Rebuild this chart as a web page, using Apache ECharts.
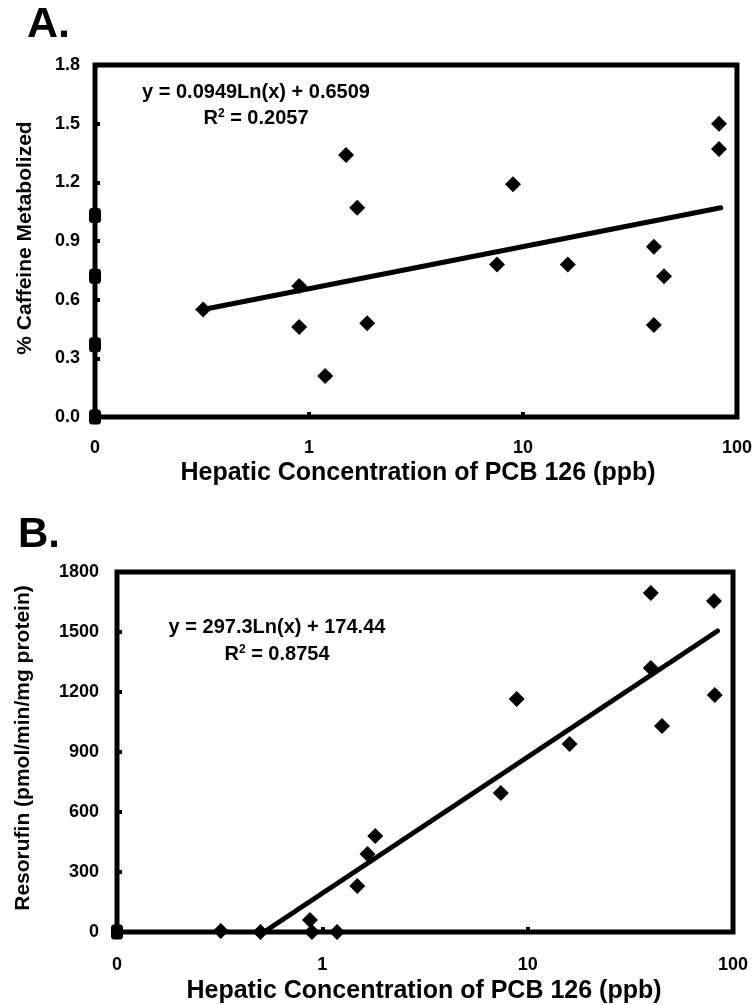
<!DOCTYPE html>
<html>
<head>
<meta charset="utf-8">
<script src="https://cdn.jsdelivr.net/npm/echarts@6/dist/echarts.min.js"></script>
<style>
html,body{margin:0;padding:0;background:#fff;}
#chart{width:755px;height:1005px;}
</style>
</head>
<body>
<div id="chart"></div>
<script>
// ---- Data ----
// Panel A: % Caffeine Metabolized vs hepatic PCB 126 (ppb); x = 0 plotted at axis start (0.1)
const aZeroY = [1.03, 0.72, 0.37, 0.0];
const aX = [0.32, 0.90, 0.90, 1.19, 1.49, 1.68, 1.87, 7.56, 8.98, 16.2, 40.9, 45.6, 40.9, 82.4, 82.4];
const aY = [0.55, 0.67, 0.46, 0.21, 1.34, 1.07, 0.48, 0.78, 1.19, 0.78, 0.87, 0.72, 0.47, 1.50, 1.37];
const aTrend = [[0.32, 0.55], [84, 1.07]];
const aEq = 'y = 0.0949Ln(x) + 0.6509';
const aR2 = '0.2057';

// Panel B: Resorufin (pmol/min/mg protein)
const bZeroY = [0];
const bX = [0.32, 0.50, 0.87, 0.89, 1.18, 1.48, 1.66, 1.81, 7.4, 8.84, 16.0, 39.8, 39.8, 45.1, 80.8, 81.5];
const bY = [5, 0, 60, 0, 0, 230, 390, 480, 695, 1165, 940, 1695, 1320, 1030, 1655, 1185];
const bTrend = [[0.52, 0], [84, 1505]];
const bEq = 'y = 297.3Ln(x) + 174.44';
const bR2 = '0.8754';

// Axis labels
const xTickLabels = {'0.1': '0', '1': '1', '10': '10', '100': '100'};
const xTitle = 'Hepatic Concentration of PCB 126 (ppb)';
const aYTitle = '% Caffeine Metabolized';
const bYTitle = 'Resorufin (pmol/min/mg protein)';
const aYMax = 1.8, aYStep = 0.3;
const bYMax = 1800, bYStep = 300;

const FONT = '"Liberation Sans", Arial, Helvetica, sans-serif';
const zip = (xs, ys) => xs.map((x, i) => [x, ys[i]]);

const chart = echarts.init(document.getElementById('chart'), null, {renderer: 'canvas'});

function xAxisCfg(gridIndex, margin) {
  return {
    type: 'log', logBase: 10, min: 0.1, max: 100, gridIndex,
    axisLine: {show: false},
    axisTick: {show: true, inside: true, length: 5, lineStyle: {color: '#000', width: 4}},
    splitLine: {show: false},
    axisLabel: {
      margin, color: '#000', fontFamily: FONT, fontWeight: 'bold', fontSize: 18,
      formatter: v => {
        const k = String(Math.round(v * 10) / 10);
        return xTickLabels[k] !== undefined ? xTickLabels[k] : '';
      }
    }
  };
}
function yAxisCfg(gridIndex, max, step, margin, fmt) {
  return {
    type: 'value', min: 0, max, interval: step, gridIndex,
    axisLine: {show: false},
    axisTick: {show: true, inside: true, length: 5, lineStyle: {color: '#000', width: 4}},
    splitLine: {show: false},
    axisLabel: {margin, color: '#000', fontFamily: FONT, fontWeight: 'bold', fontSize: 18, formatter: fmt}
  };
}

const diamond = {symbol: 'diamond', symbolSize: 16, itemStyle: {color: '#000', opacity: 1}};
const zeroMark = {symbol: 'roundRect', symbolSize: [12, 15], itemStyle: {color: '#000', opacity: 1}};
const lineStyle = {color: '#000', width: 5, cap: 'round'};

const option = {
  animation: false,
  backgroundColor: '#fff',
  grid: [
    {left: 95, top: 65, width: 642, height: 352, show: true, borderColor: '#000', borderWidth: 5, backgroundColor: 'transparent'},
    {left: 117, top: 572, width: 616, height: 360, show: true, borderColor: '#000', borderWidth: 5, backgroundColor: 'transparent'}
  ],
  xAxis: [xAxisCfg(0, 22), xAxisCfg(1, 24)],
  yAxis: [
    yAxisCfg(0, aYMax, aYStep, 15, v => v.toFixed(1)),
    yAxisCfg(1, bYMax, bYStep, 18, v => String(Math.round(v)))
  ],
  series: [
    {type: 'line', xAxisIndex: 0, yAxisIndex: 0, data: aTrend, showSymbol: false, lineStyle, z: 3},
    Object.assign({type: 'scatter', xAxisIndex: 0, yAxisIndex: 0, data: zip(aX, aY), clip: false, z: 4}, diamond),
    Object.assign({type: 'scatter', xAxisIndex: 0, yAxisIndex: 0, data: aZeroY.map(y => [0.1, y]), clip: false, z: 4}, zeroMark),
    {type: 'line', xAxisIndex: 1, yAxisIndex: 1, data: bTrend, showSymbol: false, lineStyle, z: 3},
    Object.assign({type: 'scatter', xAxisIndex: 1, yAxisIndex: 1, data: zip(bX, bY), clip: false, z: 4}, diamond),
    Object.assign({type: 'scatter', xAxisIndex: 1, yAxisIndex: 1, data: bZeroY.map(y => [0.1, y]), clip: false, z: 4}, zeroMark)
  ],
  graphic: [
    {type: 'text', left: 27, top: 4, style: {text: 'A.', font: 'bold 43px ' + FONT, fill: '#000'}},
    {type: 'text', left: 18, top: 514, style: {text: 'B.', font: 'bold 42px ' + FONT, fill: '#000'}},
    {type: 'text', x: 256, y: 92, style: {text: aEq, font: 'bold 20px ' + FONT, fill: '#000', align: 'center', verticalAlign: 'middle'}},
    {type: 'text', x: 256, y: 118, style: {
      text: 'R{sup|2} = ' + aR2, font: 'bold 20px ' + FONT, fill: '#000', align: 'center', verticalAlign: 'middle',
      rich: {sup: {font: 'bold 12px ' + FONT, fill: '#000', verticalAlign: 'top', padding: [0, 0, 8, 0]}}
    }},
    {type: 'text', x: 277, y: 627, style: {text: bEq, font: 'bold 20px ' + FONT, fill: '#000', align: 'center', verticalAlign: 'middle'}},
    {type: 'text', x: 277, y: 654, style: {
      text: 'R{sup|2} = ' + bR2, font: 'bold 20px ' + FONT, fill: '#000', align: 'center', verticalAlign: 'middle',
      rich: {sup: {font: 'bold 12px ' + FONT, fill: '#000', verticalAlign: 'top', padding: [0, 0, 8, 0]}}
    }},
    {type: 'text', x: 418, y: 473, style: {text: xTitle, font: 'bold 25px ' + FONT, fill: '#000', align: 'center', verticalAlign: 'middle'}},
    {type: 'text', x: 424, y: 991, style: {text: xTitle, font: 'bold 25px ' + FONT, fill: '#000', align: 'center', verticalAlign: 'middle'}},
    {type: 'text', x: 25, y: 238, rotation: Math.PI / 2, style: {text: aYTitle, font: 'bold 21px ' + FONT, fill: '#000', align: 'center', verticalAlign: 'middle'}},
    {type: 'text', x: 23, y: 748, rotation: Math.PI / 2, style: {text: bYTitle, font: 'bold 21px ' + FONT, fill: '#000', align: 'center', verticalAlign: 'middle'}}
  ]
};
chart.setOption(option);
</script>
</body>
</html>
